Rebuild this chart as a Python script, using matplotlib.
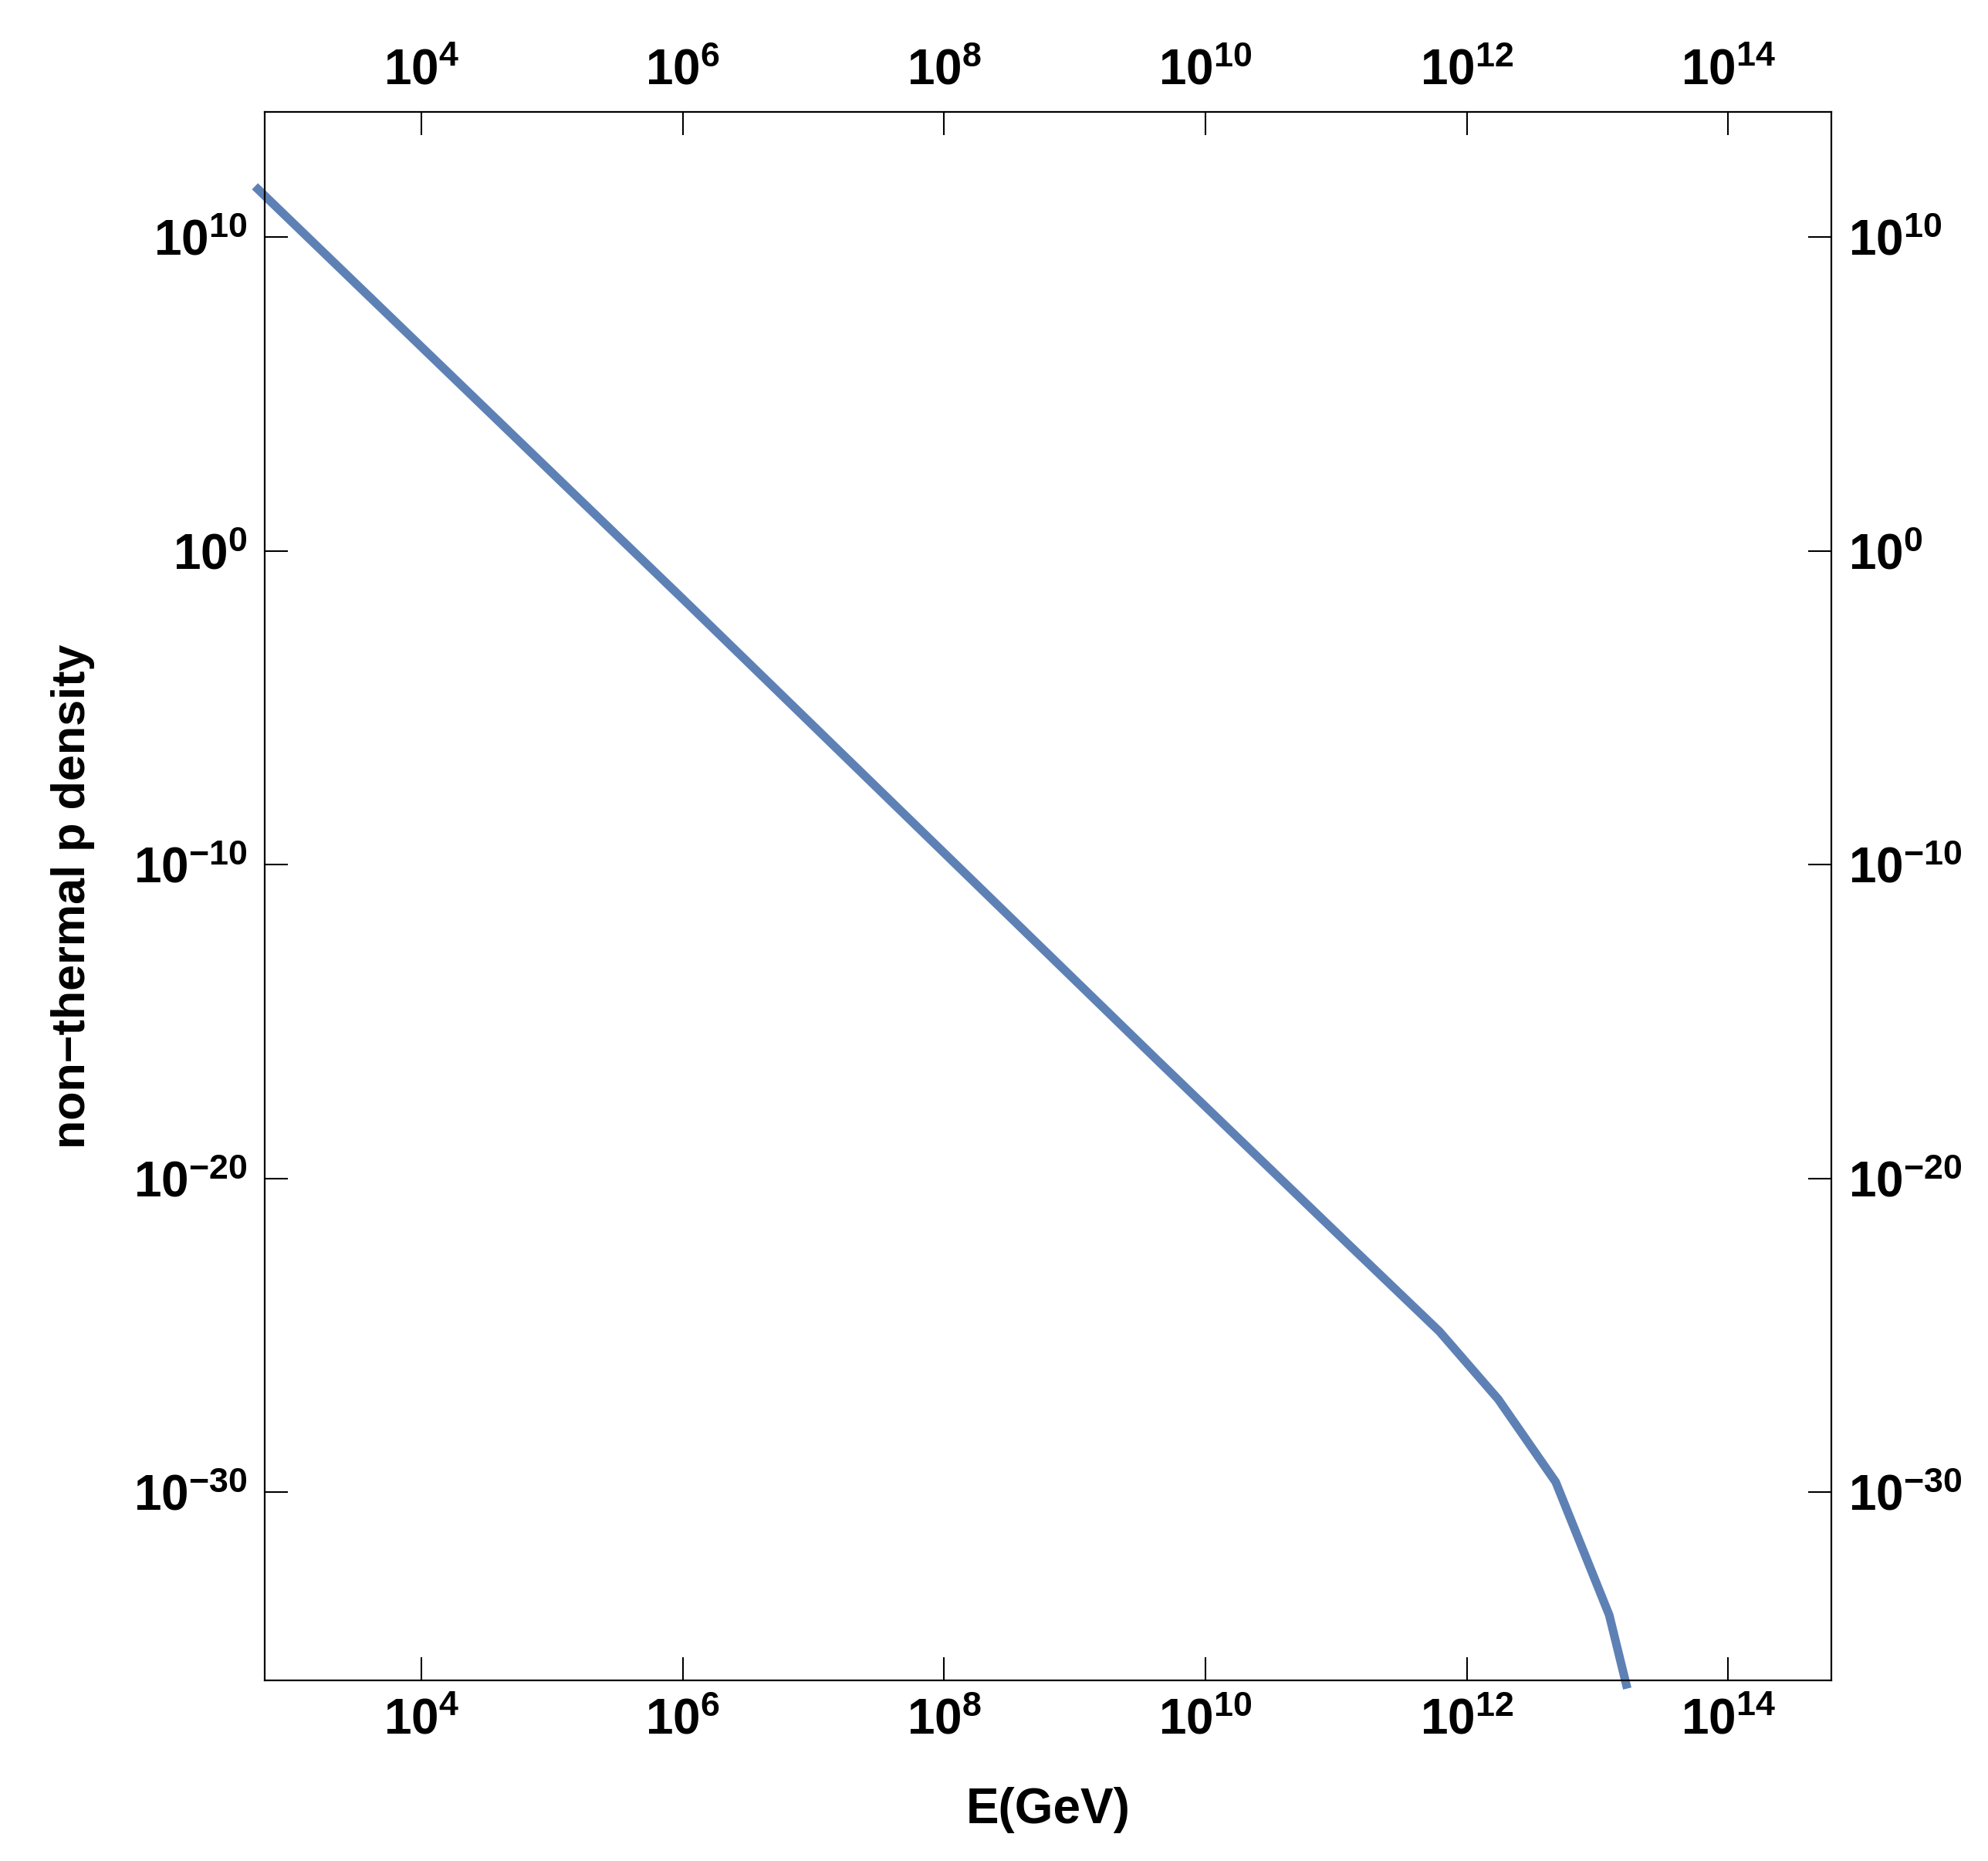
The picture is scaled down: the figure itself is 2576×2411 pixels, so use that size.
import numpy as np
import matplotlib
matplotlib.use("Agg")
import matplotlib.pyplot as plt
from matplotlib.ticker import FixedLocator, FixedFormatter, NullLocator

# values (E in GeV, density)
energy_gev = [5.6e2, 1.0e6, 4.27e9, 1.29e11, 6.17e11, 1.74e12, 4.79e12, 1.23e13, 1.66e13]
density = [3.4e11, 2.95e-2, 5.9e-17, 6.8e-23, 1.32e-25, 9.1e-28, 2.09e-30, 1.2e-34, 7.4e-37]

x_ticks = [1e4, 1e6, 1e8, 1e10, 1e12, 1e14]
x_labels = ["$10^{4}$", "$10^{6}$", "$10^{8}$", "$10^{10}$", "$10^{12}$", "$10^{14}$"]
y_ticks = [1e-30, 1e-20, 1e-10, 1e0, 1e10]
y_labels = ["$10^{-30}$", "$10^{-20}$", "$10^{-10}$", "$10^{0}$", "$10^{10}$"]

plt.rcParams["font.family"] = ["Liberation Sans", "DejaVu Sans"]
plt.rcParams["font.weight"] = "bold"
plt.rcParams["mathtext.fontset"] = "custom"
plt.rcParams["mathtext.rm"] = "Liberation Sans:bold"
plt.rcParams["mathtext.it"] = "Liberation Sans:bold"
plt.rcParams["mathtext.bf"] = "Liberation Sans:bold"

fig = plt.figure(figsize=(25.76, 24.11), dpi=100)
ax = fig.add_axes([0.1332, 0.0971, 0.9212 - 0.1332, 0.9399 - 0.0971])

ax.plot(energy_gev, density, color="#5E81B5", lw=8, clip_on=False,
        solid_joinstyle="miter")

ax.set_xscale("log")
ax.set_yscale("log")
ax.set_xlim(10**2.8, 10**14.79)
ax.set_ylim(1e-36, 1e14)

ax.xaxis.set_major_locator(FixedLocator(x_ticks))
ax.xaxis.set_major_formatter(FixedFormatter(x_labels))
ax.yaxis.set_major_locator(FixedLocator(y_ticks))
ax.yaxis.set_major_formatter(FixedFormatter(y_labels))
ax.xaxis.set_minor_locator(NullLocator())
ax.yaxis.set_minor_locator(NullLocator())

ax.tick_params(which="major", direction="in", length=21.6, width=1.5,
               top=True, right=True, labeltop=True, labelright=True,
               labelsize=46, pad=16)

for s in ax.spines.values():
    s.set_linewidth(1.6)

ax.set_xlabel("E(GeV)", fontsize=46, fontweight="bold", labelpad=40)
ax.set_ylabel("non\u2212thermal p density", fontsize=44, fontweight="bold", labelpad=36)

fig.savefig("out.png", dpi=100)
